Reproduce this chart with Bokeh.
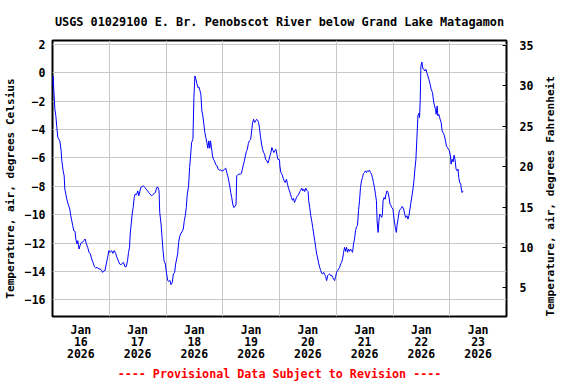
import math
from datetime import datetime, timedelta

from bokeh.plotting import figure
from bokeh.models import ColumnDataSource, Range1d, LinearAxis, FixedTicker, Title
from bokeh.embed import file_html
from bokeh.resources import INLINE

title_text = "USGS 01029100 E. Br. Penobscot River below Grand Lake Matagamon"
left_label = "Temperature, air, degrees Celsius"
right_label = "Temperature, air, degrees Fahrenheit"
footer_text = "---- Provisional Data Subject to Revision ----"

start = datetime(2026, 1, 16)
end = datetime(2026, 1, 24)

# hours since 2026-01-16 00:00
hours = [
    0.00, 0.25, 0.58, 1.00, 1.42, 1.84, 2.26, 3.10, 3.66, 3.94, 4.50, 4.93, 5.21, 5.63, 6.05, 6.61,
    7.31, 7.73, 8.16, 8.58, 9.00, 9.56, 9.84, 10.40, 10.68, 11.24, 11.66, 12.22, 12.64, 13.21, 13.77,
    14.33, 14.89, 15.45, 16.01, 16.58, 17.14, 17.70, 18.26, 18.82, 19.66, 20.22, 20.79, 21.21, 21.77,
    22.19, 22.75, 23.31, 23.87, 24.43, 25.00, 25.56, 26.12, 26.68, 27.24, 27.80, 28.37, 28.93, 29.49,
    30.05, 30.61, 31.17, 31.73, 32.16, 32.58, 32.86, 33.28, 33.70, 34.12, 34.54, 34.96, 35.52, 36.08,
    36.50, 36.93, 37.35, 37.91, 38.47, 39.03, 39.59, 40.15, 40.72, 41.28, 41.84, 42.40, 42.96, 43.52,
    44.08, 44.64, 45.06, 45.35, 45.91, 46.33, 46.75, 47.17, 47.73, 48.16, 48.72, 49.14, 49.70, 50.12,
    50.68, 51.10, 51.66, 52.08, 52.50, 52.93, 53.35, 53.77, 54.19, 54.75, 55.31, 55.73, 56.16, 56.58,
    57.00, 57.56, 57.98, 58.40, 58.82, 59.38, 59.80, 60.22, 60.64, 61.07, 61.49, 61.91, 62.33, 62.75,
    63.17, 63.59, 64.01, 64.43, 64.85, 65.28, 65.70, 66.12, 66.54, 66.82, 67.24, 67.66, 68.08, 68.50,
    69.07, 69.63, 70.05, 70.47, 71.03, 71.59, 72.15, 72.72, 73.28, 73.70, 74.12, 74.54, 74.96, 75.38,
    75.80, 76.22, 76.64, 77.21, 77.63, 77.91, 78.33, 78.89, 79.45, 79.87, 80.29, 80.72, 81.14, 81.56,
    81.98, 82.40, 82.82, 83.24, 83.80, 84.22, 84.64, 85.06, 85.48, 85.90, 86.33, 86.75, 87.17, 87.59,
    88.01, 88.43, 88.85, 89.27, 89.69, 90.11, 90.68, 91.10, 91.52, 91.94, 92.36, 92.78, 93.20, 93.62,
    94.05, 94.47, 94.89, 95.31, 96.01, 96.15, 96.58, 97.14, 97.56, 97.98, 98.40, 98.96, 99.38, 99.80,
    100.22, 100.64, 101.06, 101.49, 101.91, 102.33, 102.75, 103.17, 103.59, 104.15, 104.57, 105.00,
    105.42, 105.84, 106.26, 106.68, 107.10, 107.52, 108.08, 108.36, 108.78, 109.21, 109.63, 110.05,
    110.47, 110.89, 111.31, 111.73, 112.15, 112.57, 113.00, 113.42, 113.84, 114.26, 114.68, 115.10,
    115.52, 115.94, 116.36, 116.78, 117.21, 117.63, 118.05, 118.47, 118.89, 119.31, 119.73, 120.15,
    120.57, 121.00, 121.42, 121.84, 122.26, 122.68, 123.10, 123.52, 123.94, 124.36, 124.78, 125.20,
    125.63, 126.05, 126.47, 126.89, 127.31, 127.73, 128.15, 128.57, 128.99, 129.42, 129.84, 130.26,
    130.68, 131.10, 131.52, 131.94, 132.36, 132.78, 133.20, 133.63, 134.05, 134.47, 134.89, 135.31,
    135.73, 136.15, 136.57, 136.99, 137.27, 137.69, 138.11, 138.40, 138.82, 139.24, 139.52, 139.80,
    140.22, 140.64, 141.06, 141.48, 141.91, 142.33, 142.75, 143.17, 143.45, 144.00, 144.43, 144.99,
    145.41, 145.69, 146.11, 146.67, 147.38, 147.94, 148.50, 148.93, 149.35, 149.91, 150.33, 150.75,
    151.17, 151.59, 152.01, 152.43, 152.85, 153.27, 153.69, 154.12, 154.54, 154.96, 155.24, 155.52,
    155.80, 156.22, 156.64, 157.06, 157.48, 157.91, 158.33, 158.75, 159.17, 159.73, 160.15, 160.71,
    161.14, 161.56, 161.98, 162.26, 162.68, 162.96, 163.38, 163.94, 164.36, 164.78, 165.35, 165.77,
    166.19, 166.61, 167.03, 167.45, 167.87, 168.29, 168.57, 168.99, 169.41, 169.83, 170.25, 170.67,
    171.09, 171.52, 171.80, 172.22, 172.64, 172.92, 173.20, 173.62,
]

temp_c = [
    -0.90, -0.23, -1.29, -2.57, -3.04, -3.87, -4.57, -4.80, -5.50, -6.20, -6.90, -7.26, -8.20, -8.55, -8.90, -9.25,
    -9.60, -10.07, -10.43, -10.78, -11.13, -11.18, -11.71, -12.06, -11.83, -12.42, -12.18, -11.95, -11.95, -11.83, -11.71,
    -12.06, -12.30, -12.65, -12.77, -13.12, -13.36, -13.66, -13.75, -13.71, -13.82, -13.82, -13.94, -14.06, -13.94,
    -13.94, -13.47, -13.00, -12.53, -12.65, -12.53, -12.72, -12.53, -12.72, -13.00, -13.24, -13.47, -13.52, -13.43,
    -13.36, -13.66, -13.66, -13.24, -12.65, -12.30, -11.36, -10.66, -9.95, -9.49, -8.79, -8.55, -8.60, -8.32,
    -8.67, -8.37, -8.08, -8.03, -7.97, -8.08, -8.20, -8.32, -8.44, -8.55, -8.67, -8.60, -8.51, -8.44,
    -8.08, -8.08, -8.32, -9.84, -10.66, -11.60, -12.53, -13.24, -13.47, -14.06, -14.64, -14.69, -14.64, -14.93,
    -14.76, -14.18, -14.06, -13.47, -13.12, -12.77, -11.95, -11.55, -11.36, -11.20, -11.01, -10.43, -10.07, -9.49,
    -8.55, -7.97, -6.68, -5.86, -4.92, -4.69, -1.76, -0.23, -0.46, -0.77, -1.05, -1.00, -1.24, -1.52,
    -2.69, -3.04, -3.63, -4.22, -4.57, -4.92, -5.32, -4.80, -5.32, -4.80, -5.27, -5.86, -6.09, -6.21,
    -6.49, -6.56, -6.79, -6.86, -6.86, -6.91, -6.91, -6.79, -6.72, -7.03, -7.26, -7.61, -7.97, -8.44,
    -8.79, -9.25, -9.49, -9.42, -9.25, -7.26, -7.19, -7.14, -7.14, -7.10, -6.79, -6.49, -6.21, -5.86,
    -5.55, -5.39, -4.99, -4.80, -4.71, -4.10, -3.51, -3.28, -3.51, -3.40, -3.28, -3.35, -3.51, -3.98,
    -4.57, -5.03, -5.39, -5.62, -5.74, -6.09, -6.21, -6.37, -6.16, -5.86, -5.62, -5.27, -5.46, -5.62,
    -5.50, -5.39, -5.74, -6.09, -6.14, -6.56, -7.03, -7.19, -7.43, -7.61, -7.73, -7.50, -7.85, -8.13,
    -8.32, -8.55, -8.79, -8.98, -8.84, -9.14, -8.98, -8.79, -8.67, -8.55, -8.37, -8.27,
    -8.13, -8.32, -8.20, -8.37, -8.13, -8.27, -8.37, -9.02, -9.49, -10.07, -10.43, -10.90,
    -11.36, -11.83, -12.30, -12.77, -13.05, -13.42, -13.71, -13.94, -14.13, -14.17, -14.06, -14.22,
    -14.36, -14.64, -14.29, -14.22, -14.17, -14.29, -14.26, -14.41, -14.53, -14.64, -14.36, -14.06,
    -13.94, -13.83, -13.71, -13.47, -13.36, -13.12, -12.65, -12.30, -12.58, -12.30, -12.65, -12.42,
    -12.58, -12.42, -12.53, -12.65, -12.06, -11.71, -11.13, -10.85, -10.78, -9.72, -9.02, -8.08,
    -7.61, -7.38, -7.10, -7.03, -6.91, -7.03, -6.91, -6.96, -6.86, -7.03, -7.14, -7.38,
    -7.73, -8.08, -8.55, -9.02, -10.43, -11.25, -10.31, -9.95, -10.07, -10.19, -9.95, -9.02,
    -8.79, -8.91, -8.55, -8.32, -8.44, -8.79, -9.25, -9.37, -9.49, -9.60, -10.31, -10.90,
    -11.25, -10.78, -10.31, -9.72, -9.56, -9.42, -9.60, -9.95, -10.20, -10.07, -10.31, -10.07,
    -9.60, -9.14, -8.67, -8.20, -7.61, -6.79, -6.09, -4.57, -3.04, -2.86, -3.16, -1.87,
    0.47, 0.75, 0.28, 0.24, 0.12, 0.24, 0.00, -0.23, -0.46, -0.82, -1.17, -1.40,
    -1.99, -2.34, -2.57, -2.93, -2.34, -3.04, -2.93, -3.28, -3.51, -4.10, -4.27, -4.45,
    -4.80, -5.15, -5.27, -5.39, -5.50, -5.86, -6.44, -6.09, -6.28, -5.81, -6.14, -6.79,
    -6.91, -6.79, -7.38, -7.73, -7.85, -8.20, -8.44, -8.32,
]

day_labels = ["Jan\n16\n2026", "Jan\n17\n2026", "Jan\n18\n2026", "Jan\n19\n2026",
              "Jan\n20\n2026", "Jan\n21\n2026", "Jan\n22\n2026", "Jan\n23\n2026"]
celsius_ticks = [-16, -14, -12, -10, -8, -6, -4, -2, 0, 2]
fahrenheit_ticks = [5, 10, 15, 20, 25, 30, 35]
celsius_range = (-17.17, 2.27)
fahrenheit_range = (1.46, 35.6)

EPOCH = datetime(1970, 1, 1)


def to_ms(dt):
    return int(round((dt - EPOCH).total_seconds() * 1000))


times = [start + timedelta(hours=h) for h in hours]
source = ColumnDataSource(data=dict(t=times, c=temp_c))

noon_ms = [to_ms(start + timedelta(days=i, hours=12)) for i in range(len(day_labels))]
midnight_ms = [to_ms(start + timedelta(days=i)) for i in range(1, 8)]

FONT = "DejaVu Sans Mono"
TICK_FS = "11.5px"
LABEL_FS = "11.1px"

p = figure(width=576, height=384, x_axis_type="datetime",
           x_range=Range1d(start, end), y_range=Range1d(*celsius_range),
           output_backend="svg", toolbar_location=None,
           min_border_left=51, min_border_right=70, min_border_top=39, min_border_bottom=68)
p.extra_y_ranges = {"f": Range1d(*fahrenheit_range)}

p.background_fill_color = "white"
p.border_fill_color = "white"
p.outline_line_color = "black"
p.outline_line_width = 2

p.title = Title(text=title_text, align="center", text_font=FONT, text_font_style="bold",
                text_font_size="11.85px", text_color="black", standoff=24)


def style_axis(ax, standoff):
    ax.minor_tick_line_color = None
    ax.axis_line_color = None
    ax.major_label_standoff = standoff
    ax.major_label_text_font = FONT
    ax.major_label_text_font_style = "bold"
    ax.major_label_text_font_size = TICK_FS
    ax.major_label_text_color = "black"
    ax.axis_label_text_font = FONT
    ax.axis_label_text_font_style = "bold"
    ax.axis_label_text_font_size = LABEL_FS
    ax.axis_label_text_color = "black"


# x axis
xa = p.below[0]
xa.ticker = FixedTicker(ticks=noon_ms)
xa.major_label_overrides = {t: lab for t, lab in zip(noon_ms, day_labels)}
xa.major_tick_in = 0
xa.major_tick_out = 0
style_axis(xa, 6)
xa.major_label_text_line_height = 0.88
xa.axis_label = footer_text
xa.axis_label_text_color = "#ff0000"
xa.axis_label_text_font_size = "11.7px"
xa.axis_label_standoff = 3

# left axis
ya = p.left[0]
ya.ticker = FixedTicker(ticks=celsius_ticks)
ya.major_tick_in = 0
ya.major_tick_out = 0
style_axis(ya, 7)
ya.axis_label = left_label + "   "
ya.axis_label_standoff = 5

# right axis
ra = LinearAxis(y_range_name="f", ticker=FixedTicker(ticks=fahrenheit_ticks))
ra.major_tick_in = 4
ra.major_tick_out = 0
ra.major_tick_line_color = "black"
style_axis(ra, 13)
ra.axis_label = right_label
ra.axis_label_standoff = 14
if "axis_label_align" in ra.properties():
    try:
        ra.axis_label_align = "start"
        ra.axis_label_orientation = math.pi / 2
    except Exception:
        pass
p.add_layout(ra, "right")

# grids
p.xgrid.ticker = FixedTicker(ticks=midnight_ms)
p.ygrid.ticker = FixedTicker(ticks=celsius_ticks)
p.grid.grid_line_color = "#c8c8c8"
p.grid.grid_line_width = 1

p.line(x="t", y="c", source=source, line_color="#0000ff", line_width=1)

open("out.html", "w").write(file_html(p, INLINE))
